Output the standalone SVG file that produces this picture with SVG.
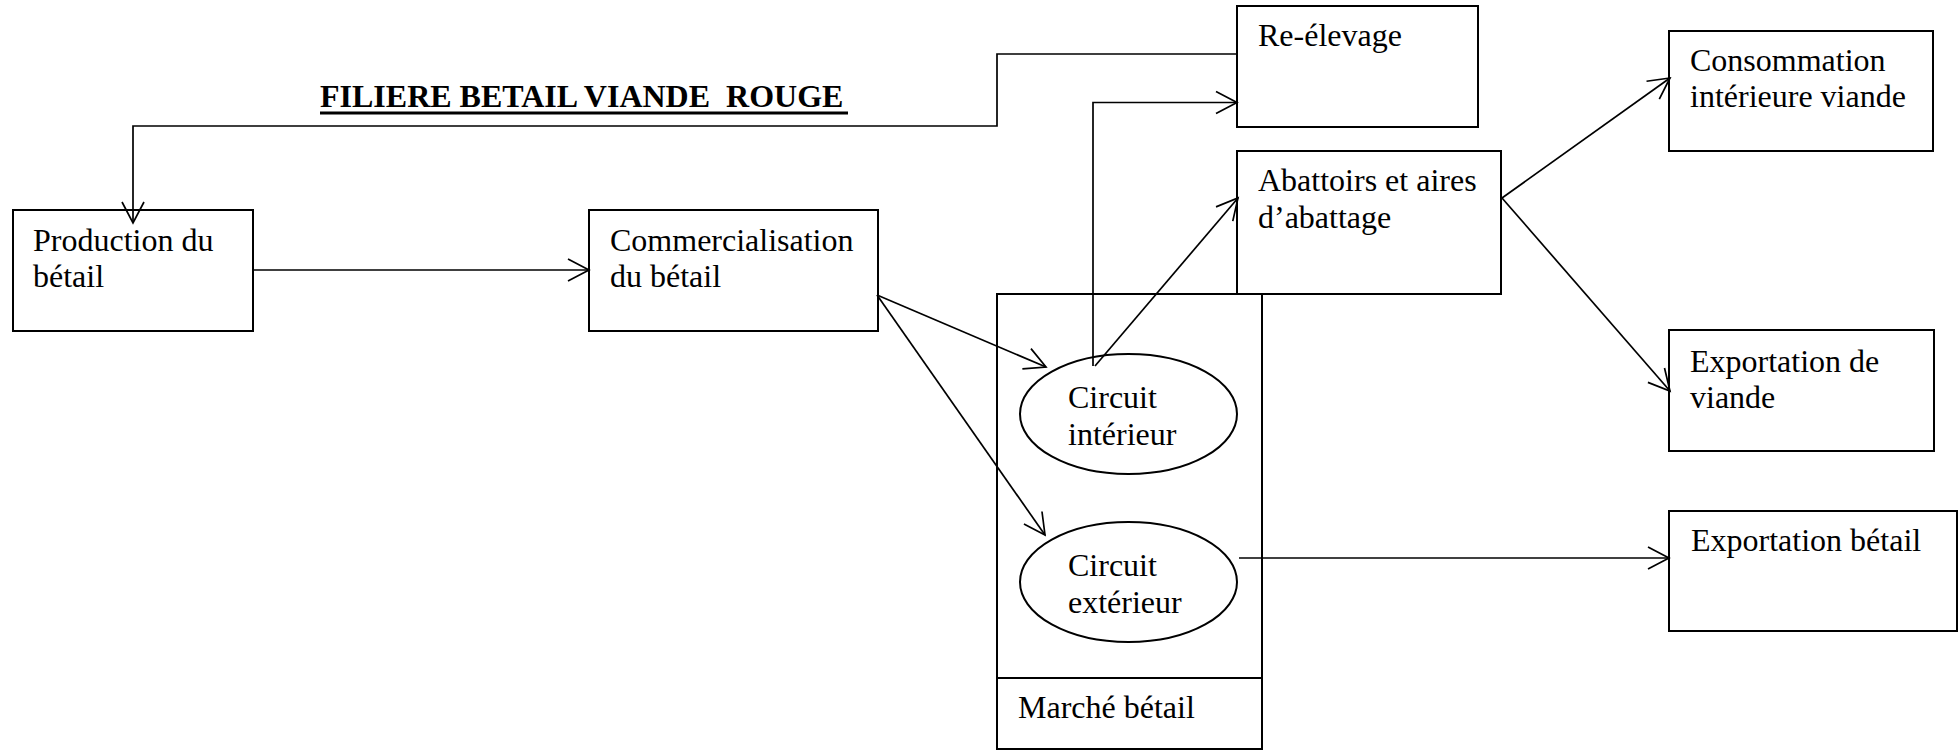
<svg xmlns="http://www.w3.org/2000/svg" width="1959" height="751" viewBox="0 0 1959 751">
<defs>
<style>
.box{fill:none;stroke:#000;stroke-width:2}
.lbl{font-family:"Liberation Serif","Times New Roman",serif;font-size:32px;fill:#000}
.title{font-family:"Liberation Serif","Times New Roman",serif;font-size:32px;font-weight:bold;fill:#000;white-space:pre}
.conn{fill:none;stroke:#000;stroke-width:1.7}
</style>
<marker id="arr" markerUnits="userSpaceOnUse" markerWidth="30" markerHeight="30" viewBox="-25 -15 30 30" refX="0" refY="0" orient="auto">
<path d="M-21,-11 L0,0 L-21,11" fill="none" stroke="#000" stroke-width="1.7"/>
</marker>
</defs>
<rect width="1959" height="751" fill="#fff"/>
<g id="title">
<text class="title" x="320" y="107" xml:space="preserve">FILIERE BETAIL VIANDE  ROUGE</text>
<line x1="320" y1="113" x2="848" y2="113" stroke="#000" stroke-width="3"/>
</g>
<g id="production">
<rect class="box" x="13" y="210" width="240" height="121"/>
<text class="lbl" x="33" y="251">Production du</text>
<text class="lbl" x="33" y="287">bétail</text>
</g>
<g id="commercialisation">
<rect class="box" x="589" y="210" width="289" height="121"/>
<text class="lbl" x="610" y="251">Commercialisation</text>
<text class="lbl" x="610" y="287">du bétail</text>
</g>
<g id="reelevage">
<rect class="box" x="1237" y="6" width="241" height="121"/>
<text class="lbl" x="1258" y="46">Re-élevage</text>
</g>
<g id="abattoirs">
<rect class="box" x="1237" y="151" width="264" height="143"/>
<text class="lbl" x="1258" y="191">Abattoirs et aires</text>
<text class="lbl" x="1258" y="228">d’abattage</text>
</g>
<g id="consommation">
<rect class="box" x="1669" y="31" width="264" height="120"/>
<text class="lbl" x="1690" y="71">Consommation</text>
<text class="lbl" x="1690" y="107">intérieure viande</text>
</g>
<g id="export-viande">
<rect class="box" x="1669" y="330" width="265" height="121"/>
<text class="lbl" x="1690" y="372">Exportation de</text>
<text class="lbl" x="1690" y="408">viande</text>
</g>
<g id="export-betail">
<rect class="box" x="1669" y="511" width="288" height="120"/>
<text class="lbl" x="1691" y="551">Exportation bétail</text>
</g>
<g id="marche">
<rect class="box" x="997" y="294" width="265" height="455"/>
<line x1="997" y1="678" x2="1262" y2="678" stroke="#000" stroke-width="2"/>
<text class="lbl" x="1018" y="718">Marché bétail</text>
</g>
<g id="circuit-interieur">
<ellipse class="box" cx="1128.5" cy="414" rx="108.5" ry="60"/>
<text class="lbl" x="1068" y="408">Circuit</text>
<text class="lbl" x="1068" y="445">intérieur</text>
</g>
<g id="circuit-exterieur">
<ellipse class="box" cx="1128.5" cy="582" rx="108.5" ry="60"/>
<text class="lbl" x="1068" y="576">Circuit</text>
<text class="lbl" x="1068" y="613">extérieur</text>
</g>
<g id="connectors">
<path class="conn" d="M1237,54 L997,54 L997,126 L133,126 L133,223" marker-end="url(#arr)"/>
<path class="conn" d="M253,270 L589,270" marker-end="url(#arr)"/>
<path class="conn" d="M877,295 L1046,367" marker-end="url(#arr)"/>
<path class="conn" d="M877,295 L1045,535" marker-end="url(#arr)"/>
<path class="conn" d="M1093,366 L1093,102.5 L1237,102.5" marker-end="url(#arr)"/>
<path class="conn" d="M1095,366 L1238,198" marker-end="url(#arr)"/>
<path class="conn" d="M1502,198 L1670,78" marker-end="url(#arr)"/>
<path class="conn" d="M1502,198 L1670,391" marker-end="url(#arr)"/>
<path class="conn" d="M1239,558 L1669,558" marker-end="url(#arr)"/>
</g>
</svg>
